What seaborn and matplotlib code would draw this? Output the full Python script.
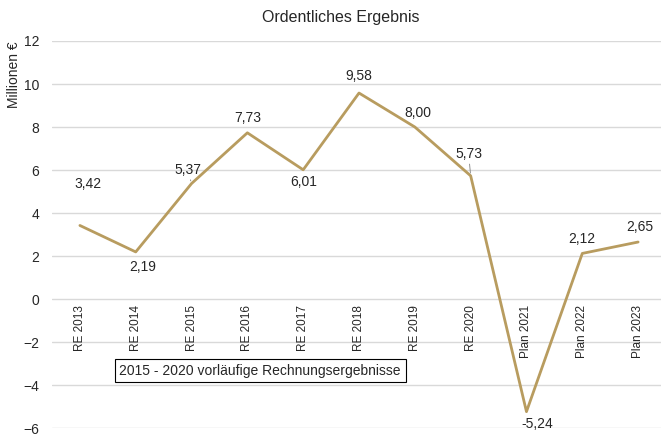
import pandas as pd
import seaborn as sns
import matplotlib.pyplot as plt

jahre = ['RE 2013', 'RE 2014', 'RE 2015', 'RE 2016', 'RE 2017', 'RE 2018',
         'RE 2019', 'RE 2020', 'Plan 2021', 'Plan 2022', 'Plan 2023']
ergebnis = [3.42, 2.19, 5.37, 7.73, 6.01, 9.58, 8.00, 5.73, -5.24, 2.12, 2.65]
# label offsets in pixels (dx, dy)
offsets = [(8, 40), (7, -14), (-4, 13), (0, 14), (0, -11), (0, 16),
           (3, 13), (-2, 21), (11, -11), (0, 13), (2, 14)]

df = pd.DataFrame({'jahr': range(len(jahre)), 'wert': ergebnis})

sns.set_style('white')
plt.rcParams['font.family'] = ['Liberation Sans', 'DejaVu Sans']

fig = plt.figure(figsize=(6.61, 4.36), dpi=100)
ax = fig.add_axes([52 / 661, 8 / 436, 609 / 661, 387 / 436])

sns.lineplot(data=df, x='jahr', y='wert', color='#b89c5f', linewidth=2, ax=ax)

ax.set_xlim(-0.5, 10.41)
ax.set_ylim(-6, 12)
ax.set_yticks(range(-6, 13, 2))
ax.tick_params(axis='y', labelsize=10, length=0, pad=9)
ax.set_xticks([])
ax.set_xlabel('')
ax.set_ylabel('Millionen €', fontsize=10, loc='top', labelpad=2)
ax.yaxis.grid(True, color='#d9d9d9', linewidth=1)
ax.set_axisbelow(True)
for s in ax.spines.values():
    s.set_visible(False)

# category labels inside the plot, below the zero line
for i, j in enumerate(jahre):
    ax.annotate(j, (i, 0), xytext=(0, -6), textcoords='offset pixels',
                rotation=90, ha='center', va='top', fontsize=8.5)

# value labels
for i, (v, (dx, dy)) in enumerate(zip(ergebnis, offsets)):
    txt = f'{v:.2f}'.replace('.', ',')
    va = 'bottom' if dy > 0 else 'top'
    dyy = dy - 6 if dy > 0 else dy + 6
    props = None
    if i in (2, 7):
        props = dict(arrowstyle='-', color='#808080', lw=0.6, shrinkA=0, shrinkB=2)
    ax.annotate(txt, (i, v), xytext=(dx, dyy), textcoords='offset pixels',
                ha='center', va=va, fontsize=10, arrowprops=props)

ax.text(3.23, -3.33, '2015 - 2020 vorläufige Rechnungsergebnisse', ha='center', va='center',
        fontsize=10, bbox=dict(boxstyle='square,pad=0.35', fc='white', ec='black', lw=0.8))

fig.suptitle('Ordentliches Ergebnis', fontsize=11.5, y=0.978, x=0.515)

fig.savefig('out.png', dpi=100)
